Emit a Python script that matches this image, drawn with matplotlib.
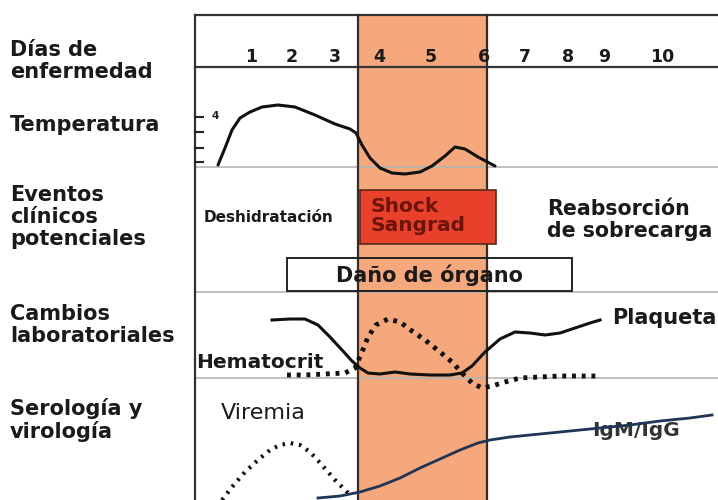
import matplotlib.pyplot as plt
from matplotlib.patches import Rectangle

# Diagram laid out in image pixel units (x: 0..718, y: 0..500 top-down)
ROW_LABELS = ["Días de\nenfermedad", "Temperatura", "Eventos\nclínicos\npotenciales",
              "Cambios\nlaboratoriales", "Serología y\nvirología"]
ROW_LABEL_Y = [61, 125, 217, 325, 420]

DAY_LABELS = ["1", "2", "3", "4", "5", "6", "7", "8", "9", "10"]
DAY_X = [251, 292, 335, 379, 431, 484, 525, 568, 604, 662]

ROW_LINES_Y = [167, 292, 378]

TEMP_X = [218, 225, 232, 240, 250, 262, 278, 295, 315, 335, 350, 356, 362, 370, 380, 392, 405, 420, 432, 445, 455, 465, 478, 495]
TEMP_Y = [165, 148, 130, 118, 112, 107, 105, 107, 115, 124, 129, 133, 145, 158, 168, 173, 174, 172, 166, 156, 147, 149, 157, 166]
TEMP_TICKS_Y = [117, 132, 148, 162]

PLAQ_X = [272, 290, 305, 318, 330, 342, 352, 360, 368, 380, 395, 410, 430, 450, 462, 472, 485, 500, 515, 530, 545, 560, 575, 590, 600]
PLAQ_Y = [320, 319, 319, 325, 337, 350, 361, 368, 373, 374, 372, 374, 375, 375, 373, 366, 352, 339, 332, 333, 335, 333, 328, 323, 320]

HEMA_X = [287, 305, 325, 345, 355, 362, 368, 376, 388, 400, 412, 425, 440, 452, 462, 472, 482, 492, 505, 520, 540, 560, 580, 598]
HEMA_Y = [375, 375, 374, 373, 368, 352, 337, 325, 319, 322, 331, 340, 352, 362, 373, 383, 388, 386, 382, 378, 377, 376, 376, 376]

VIR_X = [222, 232, 245, 258, 270, 280, 290, 300, 310, 322, 335, 345, 352]
VIR_Y = [500, 487, 472, 460, 450, 445, 443, 445, 452, 465, 480, 490, 497]

IG_X = [318, 340, 360, 380, 400, 420, 440, 460, 478, 490, 510, 540, 570, 600, 630, 660, 690, 712]
IG_Y = [498, 496, 492, 486, 478, 468, 459, 450, 443, 440, 437, 434, 431, 428, 425, 421, 418, 415]

BAND_X = (358, 487)
TEXT = "#1a1a1a"

fig = plt.figure(figsize=(7.18, 5.0), dpi=100)
ax = fig.add_axes([0, 0, 1, 1])
ax.set_xlim(0, 718)
ax.set_ylim(500, 0)
ax.axis("off")

# critical phase band
ax.add_patch(Rectangle((BAND_X[0], 15), BAND_X[1] - BAND_X[0], 490,
                       facecolor="#f5a87c", edgecolor="none", zorder=0))

# grid lines
for y in ROW_LINES_Y:
    ax.plot([195, 718], [y, y], color="#b5b5b5", lw=1.2, zorder=1)
ax.plot([195, 718], [15, 15], color="#333333", lw=1.6, zorder=2)
ax.plot([195, 718], [67, 67], color="#333333", lw=1.6, zorder=2)
ax.plot([195, 195], [15, 500], color="#333333", lw=1.6, zorder=2)
for bx in BAND_X:
    ax.plot([bx, bx], [15, 500], color="#3a2a22", lw=1.6, zorder=2)

# row labels
for lab, y in zip(ROW_LABELS, ROW_LABEL_Y):
    ax.text(10, y, lab, fontsize=15, fontweight="bold", color=TEXT,
            va="center", ha="left", linespacing=1.15)

for lab, x in zip(DAY_LABELS, DAY_X):
    ax.text(x, 57, lab, fontsize=12.5, fontweight="bold", color=TEXT, ha="center", va="center")

# temperature
for y in TEMP_TICKS_Y:
    ax.plot([195, 203], [y, y], color="#222222", lw=1.5, zorder=3)
ax.text(212, 116, "4", fontsize=7.5, fontweight="bold", color=TEXT, ha="left", va="center")
ax.plot(TEMP_X, TEMP_Y, color="#111111", lw=2.2, solid_capstyle="round", zorder=4)

# clinical events
ax.text(204, 218, "Deshidratación", fontsize=11, fontweight="bold", color=TEXT, va="center")
ax.add_patch(Rectangle((360, 190), 136, 54, facecolor="#e8402a", edgecolor="#5a2a1a", lw=1.2, zorder=3))
ax.text(371, 216, "Shock\nSangrad", fontsize=14.5, fontweight="bold", color="#6b1408",
        va="center", ha="left", linespacing=1.05, zorder=4)
ax.text(547, 220, "Reabsorción\nde sobrecarga", fontsize=14.8, fontweight="bold", color=TEXT,
        va="center", ha="left", linespacing=1.15)
ax.add_patch(Rectangle((287, 258), 285, 33, facecolor="none", edgecolor="#222222", lw=1.4, zorder=3))
ax.add_patch(Rectangle((287, 258), 71, 33, facecolor="white", edgecolor="none", zorder=1))
ax.add_patch(Rectangle((487, 258), 85, 33, facecolor="white", edgecolor="none", zorder=1))
ax.text(429, 275, "Daño de órgano", fontsize=15, fontweight="bold", color=TEXT,
        ha="center", va="center", zorder=4)

# lab changes
ax.plot(PLAQ_X, PLAQ_Y, color="#111111", lw=2.2, zorder=4)
ax.plot(HEMA_X, HEMA_Y, color="#111111", lw=3.5, linestyle=(0, (0.8, 1.2)), zorder=4)
ax.text(196, 363, "Hematocrit", fontsize=14.5, fontweight="bold", color=TEXT, va="center", zorder=5)
ax.text(612, 318, "Plaqueta", fontsize=15, fontweight="bold", color=TEXT, va="center")

# serology
ax.text(221, 413, "Viremia", fontsize=16, color=TEXT, va="center")
ax.plot(VIR_X, VIR_Y, color="#111111", lw=3.0, linestyle=(0, (0.6, 1.4)), zorder=4)
ax.text(592, 430, "IgM/IgG", fontsize=14.5, fontweight="bold", color="#333333", va="center", zorder=4)
ax.plot(IG_X, IG_Y, color="#1f3556", lw=2.0, zorder=5)

fig.savefig("out.png", dpi=100)
